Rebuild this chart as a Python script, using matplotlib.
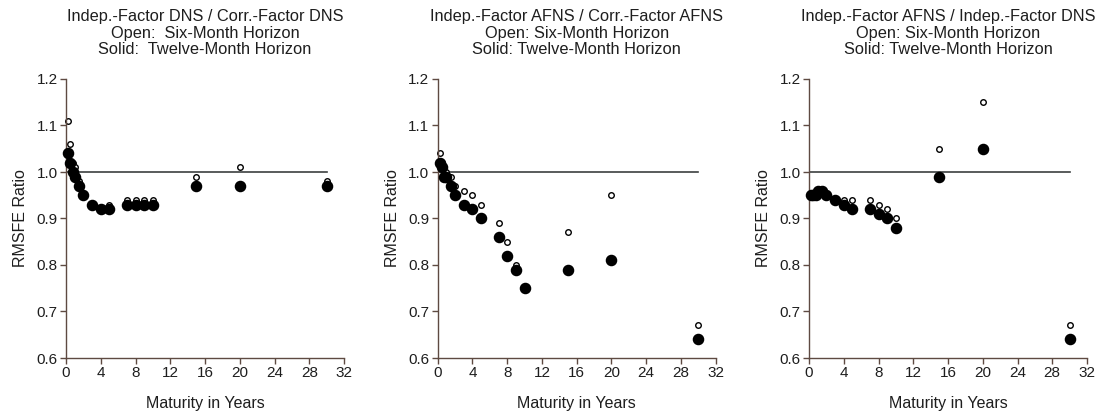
import matplotlib
matplotlib.use("Agg")
import matplotlib.pyplot as plt

plt.rcParams['font.family'] = ['Liberation Sans', 'DejaVu Sans']

maturities = [0.25, 0.5, 0.75, 1, 1.5, 2, 3, 4, 5, 7, 8, 9, 10, 15, 20, 30]

titles = [
    "Indep.-Factor DNS / Corr.-Factor DNS\nOpen:  Six-Month Horizon\nSolid:  Twelve-Month Horizon",
    "Indep.-Factor AFNS / Corr.-Factor AFNS\nOpen: Six-Month Horizon\nSolid: Twelve-Month Horizon",
    "Indep.-Factor AFNS / Indep.-Factor DNS\nOpen: Six-Month Horizon\nSolid: Twelve-Month Horizon",
]

open_dns = [1.11, 1.06, 1.02, 1.01, 0.98, 0.95, 0.93, 0.92, 0.93, 0.94, 0.94, 0.94, 0.94, 0.99, 1.01, 0.98]
solid_dns = [1.04, 1.02, 1.00, 0.99, 0.97, 0.95, 0.93, 0.92, 0.92, 0.93, 0.93, 0.93, 0.93, 0.97, 0.97, 0.97]

open_afns = [1.04, 1.02, 1.00, 1.00, 0.99, 0.97, 0.96, 0.95, 0.93, 0.89, 0.85, 0.80, 0.75, 0.87, 0.95, 0.67]
solid_afns = [1.02, 1.01, 0.99, 0.99, 0.97, 0.95, 0.93, 0.92, 0.90, 0.86, 0.82, 0.79, 0.75, 0.79, 0.81, 0.64]

open_cross = [0.95, 0.95, 0.95, 0.96, 0.96, 0.95, 0.94, 0.94, 0.94, 0.94, 0.93, 0.92, 0.90, 1.05, 1.15, 0.67]
solid_cross = [0.95, 0.95, 0.95, 0.96, 0.96, 0.95, 0.94, 0.93, 0.92, 0.92, 0.91, 0.90, 0.88, 0.99, 1.05, 0.64]

open_series = [open_dns, open_afns, open_cross]
solid_series = [solid_dns, solid_afns, solid_cross]

xticks = [0, 4, 8, 12, 16, 20, 24, 28, 32]
yticks = [0.6, 0.7, 0.8, 0.9, 1.0, 1.1, 1.2]

spine_col = '#5e4a42'
text_col = '#1e1e1e'

fig = plt.figure(figsize=(10.96, 4.15), dpi=100)
lefts = [66 / 1096, 437.7 / 1096, 809 / 1096]
for i in range(3):
    ax = fig.add_axes([lefts[i], 1 - 358 / 415, 278 / 1096, 279 / 415])
    ax.plot([0, 30], [1.0, 1.0], color='#3c4040', lw=1.2, zorder=1)
    ax.plot(maturities, open_series[i], 'o', mfc='white', mec='black', ms=4.0, mew=1.0,
            clip_on=False, zorder=2)
    ax.plot(maturities, solid_series[i], 'o', color='black', ms=7.3, mec='black',
            clip_on=False, zorder=3)
    ax.set_xlim(0, 32)
    ax.set_ylim(0.6, 1.2)
    ax.set_xticks(xticks)
    ax.set_xticklabels([str(t) for t in xticks])
    ax.set_yticks(yticks)
    ax.set_yticklabels([f"{t:.1f}" for t in yticks])
    for s in ['top', 'right']:
        ax.spines[s].set_visible(False)
    for s in ['left', 'bottom']:
        ax.spines[s].set_color(spine_col)
        ax.spines[s].set_linewidth(1.0)
    ax.tick_params(direction='out', length=4, width=1.0, color=spine_col,
                   labelsize=11, labelcolor=text_col, pad=2)
    ax.set_ylabel("RMSFE Ratio", fontsize=11.5, color=text_col, labelpad=6)
    ax.set_xlabel("Maturity in Years", fontsize=11.5, color=text_col, labelpad=11)
    ax.set_title(titles[i], fontsize=11.8, color=text_col, pad=18, linespacing=1.12)

fig.savefig("out.png", dpi=100, facecolor='white')
